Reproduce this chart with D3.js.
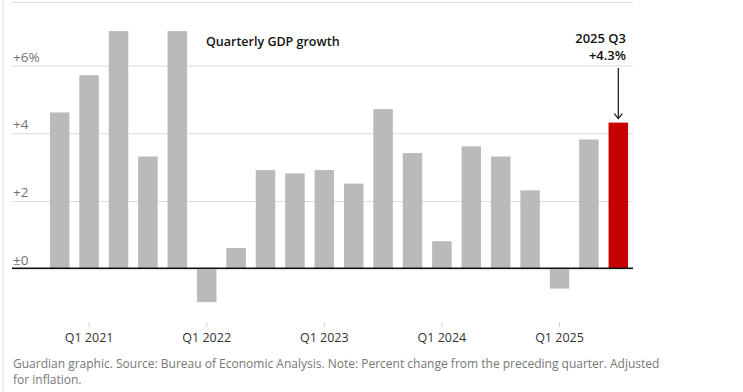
<!DOCTYPE html>
<html>
<head>
<meta charset="utf-8">
<script src="https://cdn.jsdelivr.net/npm/d3@7"></script>
<style>
  html, body { margin: 0; padding: 0; background: #fff; }
  svg { display: block; font-family: "Open Sans", "Noto Sans", sans-serif; }
</style>
</head>
<body>
<svg id="chart" width="743" height="392"></svg>
<script>
const quarters = ["Q4 2020","Q1 2021","Q2 2021","Q3 2021","Q4 2021","Q1 2022","Q2 2022","Q3 2022","Q4 2022","Q1 2023","Q2 2023","Q3 2023","Q4 2023","Q1 2024","Q2 2024","Q3 2024","Q4 2024","Q1 2025","Q2 2025","Q3 2025"];
const growth = [4.6, 5.7, 7.0, 3.3, 7.0, -1.0, 0.6, 2.9, 2.8, 2.9, 2.5, 4.7, 3.4, 0.8, 3.6, 3.3, 2.3, -0.6, 3.8, 4.3];
const yTicks = [0, 2, 4, 6];
const yTickLabels = ["±0", "+2", "+4", "+6%"];
const xTicks = ["Q1 2021", "Q1 2022", "Q1 2023", "Q1 2024", "Q1 2025"];
const title = "Quarterly GDP growth";
const highlight = "Q3 2025";
const annotationLines = ["2025 Q3", "+4.3%"];
const footerLines = ["Guardian graphic. Source: Bureau of Economic Analysis. Note: Percent change from the preceding quarter. Adjusted", "for inflation."];

const svg = d3.select("#chart");
const gridLeft = 12, gridRight = 633;

const x = d3.scaleBand().domain(quarters).range([45, 633]).paddingInner(0.337).paddingOuter(0.1685);
const y = d3.scaleLinear().domain([0, 6]).range([268.3, 65]);

// left frame line
svg.append("line").attr("x1", 3).attr("x2", 3).attr("y1", 0).attr("y2", 392)
  .attr("stroke", "#dcdcdc").attr("stroke-width", 1);
// top frame line
svg.append("line").attr("x1", gridLeft).attr("x2", gridRight).attr("y1", 2.5).attr("y2", 2.5)
  .attr("stroke", "#dcdcdc").attr("stroke-width", 1);

// gridlines
const yAxis = d3.axisLeft(y).tickValues(yTicks).tickSize(-(gridRight - gridLeft)).tickFormat((d, i) => yTickLabels[i]);
const gy = svg.append("g").attr("transform", `translate(${gridLeft},0)`).call(yAxis);
gy.select(".domain").remove();
gy.selectAll(".tick line").attr("stroke", "#dcdcdc").attr("stroke-width", 1)
  .attr("transform", "translate(0,0.5)");
gy.selectAll(".tick text")
  .attr("x", 1).attr("dy", 0).attr("y", -4)
  .attr("text-anchor", "start")
  .attr("fill", "#707070")
  .style("font-size", "13.5px")
  .style("font-family", "'Open Sans', sans-serif");

// bars
svg.append("g").selectAll("rect").data(quarters).join("rect")
  .attr("x", d => x(d))
  .attr("width", x.bandwidth())
  .attr("y", (d, i) => y(Math.max(0, growth[i])))
  .attr("height", (d, i) => Math.abs(y(growth[i]) - y(0)))
  .attr("fill", d => d === highlight ? "#c70000" : "#bababa");

// zero line
svg.append("line").attr("x1", gridLeft).attr("x2", gridRight)
  .attr("y1", y(0)).attr("y2", y(0)).attr("stroke", "#121212").attr("stroke-width", 1.5);

// x axis ticks and labels
const gx = svg.append("g");
gx.selectAll("line").data(xTicks).join("line")
  .attr("x1", d => x(d) + x.bandwidth() / 2).attr("x2", d => x(d) + x.bandwidth() / 2)
  .attr("y1", 322.5).attr("y2", 327).attr("stroke", "#cfcfcf").attr("stroke-width", 1);
gx.selectAll("text").data(xTicks).join("text")
  .attr("x", d => x(d) + x.bandwidth() / 2).attr("y", 342)
  .attr("text-anchor", "middle").attr("fill", "#333")
  .style("font-size", "12.5px")
  .text(d => d);

// title
svg.append("text").attr("x", 206).attr("y", 46)
  .attr("fill", "#121212").style("font-size", "12.5px").style("font-weight", 600)
  .text(title);

// annotation
const hx = x(highlight) + x.bandwidth() / 2;
const hv = growth[quarters.indexOf(highlight)];
svg.append("g").selectAll("text").data(annotationLines).join("text")
  .attr("x", 626).attr("y", (d, i) => 43 + i * 17)
  .attr("text-anchor", "end").attr("fill", "#121212")
  .style("font-size", "13px").style("font-weight", 600)
  .text(d => d);
const tipY = y(hv) - 4;
svg.append("line").attr("x1", hx).attr("x2", hx).attr("y1", 68).attr("y2", tipY)
  .attr("stroke", "#121212").attr("stroke-width", 1.2);
svg.append("path")
  .attr("d", `M${hx - 4},${tipY - 5}L${hx},${tipY}L${hx + 4},${tipY - 5}`)
  .attr("fill", "none").attr("stroke", "#121212").attr("stroke-width", 1.2);

// footer
svg.append("g").selectAll("text").data(footerLines).join("text")
  .attr("x", 13).attr("y", (d, i) => 368 + i * 16)
  .attr("fill", "#777").style("font-size", "12px")
  .text(d => d);
</script>
</body>
</html>
